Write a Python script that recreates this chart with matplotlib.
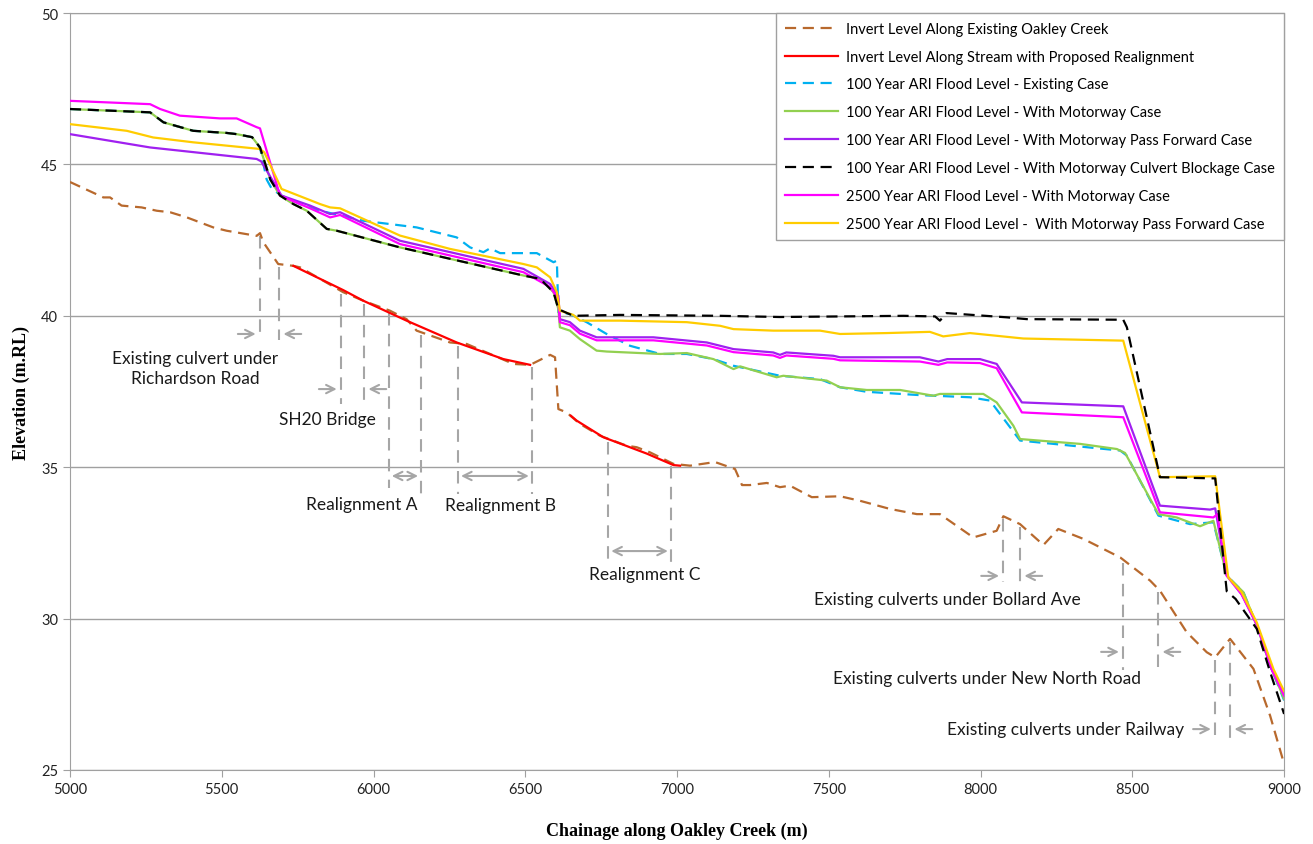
import numpy as np
import matplotlib
matplotlib.use("Agg")
import matplotlib.pyplot as plt

plt.rcParams['font.family'] = ['Lato', 'DejaVu Sans']

# --- data (chainage m, elevation m.RL) ---
inv_ch = [5000, 5110, 5132, 5170, 5236, 5286, 5330, 5385, 5472, 5516, 5615, 5626, 5637, 5686, 5736,
          5758, 5900, 5966, 6054, 6109, 6142, 6252, 6307, 6384, 6461, 6516, 6582, 6598, 6609, 6636,
          6680, 6746, 6834, 6867, 6911, 6988, 7043, 7125, 7191, 7214, 7240, 7296, 7339, 7372, 7444,
          7537, 7603, 7702, 7790, 7866, 7976, 8053, 8075, 8130, 8207, 8256, 8339, 8460, 8559, 8591,
          8679, 8745, 8773, 8822, 8899, 8954, 9000]
inv_el = [44.42, 43.91, 43.91, 43.64, 43.58, 43.47, 43.42, 43.25, 42.92, 42.81, 42.64, 42.73, 42.43, 41.71, 41.65,
          41.60, 40.78, 40.50, 40.17, 39.89, 39.51, 39.12, 39.07, 38.74, 38.41, 38.38, 38.71, 38.63, 36.92, 36.81,
          36.43, 36.04, 35.71, 35.66, 35.49, 35.11, 35.05, 35.17, 34.94, 34.41, 34.41, 34.48, 34.34, 34.39, 34.01,
          34.04, 33.89, 33.62, 33.45, 33.45, 32.68, 32.90, 33.38, 33.12, 32.43, 32.96, 32.63, 32.02, 31.25, 30.92,
          29.55, 28.89, 28.72, 29.33, 28.34, 26.79, 25.20]

prop_ch = [5736, 5900, 5966, 6109, 6274, 6428, 6516, np.nan, 6650, 6669, 6757, 6900, 6988, 7010]
prop_el = [41.65, 40.85, 40.50, 39.84, 39.12, 38.57, 38.38, np.nan, 36.70, 36.54, 35.99, 35.45, 35.07, 35.05]

ex_ch = [5000, 5264, 5308, 5406, 5516, 5549, 5600, 5626, 5648, 5665, 5697, 5758, 5813, 5846, 5966, 6142,
         6274, 6318, 6362, 6384, 6417, 6538, 6593, 6604, 6609, 6647, 6702, 6768, 6845, 6944, 7032, 7120,
         7186, 7339, 7471, 7537, 7625, 7800, 7965, 8031, 8130, 8460, 8482, 8586, 8690, 8767, 8811, 8866,
         8910, 8954, 9000]
ex_el = [46.83, 46.72, 46.39, 46.11, 46.04, 46.00, 45.90, 45.56, 44.50, 44.19, 43.97, 43.69, 43.50, 43.42, 43.14, 42.92,
         42.59, 42.26, 42.10, 42.23, 42.07, 42.07, 41.77, 41.82, 40.12, 40.06, 39.79, 39.40, 39.01, 38.74, 38.74, 38.57,
         38.35, 38.02, 37.91, 37.64, 37.49, 37.38, 37.31, 37.20, 35.88, 35.55, 35.38, 33.40, 33.12, 33.18, 31.42, 30.87,
         29.77, 28.45, 27.30]

mw_ch = [5000, 5264, 5308, 5406, 5516, 5549, 5600, 5626, 5660, 5692, 5736, 5780, 5846, 5879, 6087, 6494,
         6549, 6593, 6609, 6614, 6647, 6680, 6735, 6768, 6944, 7032, 7120, 7186, 7208, 7328, 7350, 7493,
         7537, 7625, 7735, 7845, 7866, 8009, 8053, 8108, 8130, 8328, 8449, 8476, 8586, 8646, 8723, 8767,
         8811, 8866, 8910, 8954, 9000]
mw_el = [46.83, 46.72, 46.39, 46.11, 46.04, 46.00, 45.90, 45.56, 44.50, 43.97, 43.69, 43.47, 42.87, 42.81, 42.26, 41.33,
         41.22, 40.78, 40.22, 39.62, 39.51, 39.23, 38.85, 38.82, 38.74, 38.77, 38.57, 38.24, 38.33, 37.97, 38.02, 37.86,
         37.64, 37.55, 37.55, 37.36, 37.42, 37.42, 37.14, 36.37, 35.93, 35.77, 35.60, 35.47, 33.45, 33.34, 33.05, 33.23,
         31.42, 30.87, 29.77, 28.45, 27.35]

pf_ch = [5000, 5264, 5615, 5630, 5697, 5791, 5857, 5890, 6087, 6494, 6582, 6609, 6614, 6647, 6680, 6735,
         6922, 7098, 7186, 7317, 7339, 7360, 7515, 7537, 7800, 7861, 7890, 7998, 8053, 8136, 8470, 8591,
         8756, 8773, 8811, 8860, 8910, 8960, 9000]
pf_el = [46.00, 45.56, 45.18, 45.10, 43.97, 43.64, 43.36, 43.42, 42.48, 41.55, 41.05, 40.66, 39.89, 39.79, 39.51, 39.29,
         39.29, 39.12, 38.90, 38.79, 38.71, 38.79, 38.68, 38.63, 38.63, 38.49, 38.57, 38.57, 38.41, 37.14, 37.01, 33.73,
         33.60, 33.64, 31.42, 30.80, 29.80, 28.30, 27.51]

cb_ch = [5000, 5264, 5308, 5406, 5516, 5549, 5600, 5626, 5660, 5692, 5736, 5780, 5846, 5879, 6087, 6494,
         6549, 6593, 6609, 6658, 6812, 7142, 7339, 7746, 7850, 7866, 7888, 8086, 8152, 8470, 8482, 8591,
         8773, 8811, 8840, 8910, 8954, 9000]
cb_el = [46.83, 46.72, 46.39, 46.11, 46.04, 46.00, 45.90, 45.56, 44.50, 43.97, 43.69, 43.47, 42.87, 42.81, 42.26, 41.33,
         41.22, 40.78, 40.22, 40.00, 40.03, 40.00, 39.96, 40.00, 39.98, 39.84, 40.09, 39.95, 39.89, 39.87, 39.62, 34.67,
         34.63, 30.90, 30.65, 29.66, 28.23, 26.85]

m25_ch = [5000, 5264, 5297, 5362, 5494, 5549, 5615, 5626, 5692, 5791, 5857, 5890, 6087, 6494, 6582, 6609,
          6614, 6647, 6680, 6735, 6922, 7098, 7186, 7317, 7339, 7360, 7515, 7537, 7800, 7861, 7890, 7998,
          8053, 8136, 8470, 8591, 8767, 8780, 8811, 8860, 8910, 8960, 9000]
m25_el = [47.10, 46.99, 46.83, 46.61, 46.52, 46.52, 46.23, 46.19, 43.97, 43.55, 43.25, 43.33, 42.37, 41.44, 40.95, 40.55,
          39.79, 39.69, 39.41, 39.19, 39.19, 39.02, 38.80, 38.69, 38.61, 38.69, 38.58, 38.53, 38.49, 38.38, 38.46, 38.44,
          38.27, 36.81, 36.65, 33.51, 33.34, 33.45, 31.42, 30.80, 29.80, 28.30, 27.45]

p25_ch = [5000, 5187, 5274, 5406, 5626, 5640, 5697, 5824, 5857, 5890, 6087, 6252, 6494, 6538, 6582, 6604,
          6614, 6658, 6680, 6812, 7032, 7142, 7186, 7317, 7471, 7537, 7691, 7833, 7877, 7965, 8141, 8470,
          8591, 8773, 8816, 8860, 8910, 8965, 9000]
p25_el = [46.33, 46.11, 45.89, 45.73, 45.51, 45.40, 44.19, 43.69, 43.58, 43.55, 42.65, 42.21, 41.71, 41.60, 41.27, 40.78,
          40.17, 40.03, 39.84, 39.84, 39.79, 39.67, 39.56, 39.51, 39.51, 39.40, 39.43, 39.47, 39.32, 39.43, 39.25, 39.18,
          34.67, 34.70, 31.36, 30.87, 29.87, 28.33, 27.60]

# annotation markers: (left chainage, right chainage)
culverts = [(5626, 5689), (5893, 5969), (8075, 8130), (8470, 8585), (8773, 8822)]
realign = [(6051, 6156), (6279, 6521), (6774, 6979)]

fig = plt.figure(figsize=(13.13, 8.45), dpi=100)
ax = fig.add_axes([0.0533, 0.0876, 0.9247, 0.8958])

dash = (5, 3)
ax.plot(inv_ch, inv_el, color='#B8692D', lw=1.6, dashes=dash, label='Invert Level Along Existing Oakley Creek', zorder=3)
ax.plot(prop_ch, prop_el, color='#FF0000', lw=1.6, label='Invert Level Along Stream with Proposed Realignment', zorder=4)
ax.plot(ex_ch, ex_el, color='#00B0F0', lw=1.6, dashes=dash, label='100 Year ARI Flood Level - Existing Case', zorder=3)
ax.plot(mw_ch, mw_el, color='#92D050', lw=1.6, label='100 Year ARI Flood Level - With Motorway Case', zorder=4)
ax.plot(pf_ch, pf_el, color='#A020F0', lw=1.6, label='100 Year ARI Flood Level - With Motorway Pass Forward Case', zorder=4)
ax.plot(cb_ch, cb_el, color='#000000', lw=1.6, dashes=dash, label='100 Year ARI Flood Level - With Motorway Culvert Blockage Case', zorder=6)
ax.plot(m25_ch, m25_el, color='#FF00FF', lw=1.6, label='2500 Year ARI Flood Level - With Motorway Case', zorder=4)
ax.plot(p25_ch, p25_el, color='#FFCC00', lw=1.6, label='2500 Year ARI Flood Level -  With Motorway Pass Forward Case', zorder=5)

gc = '#A6A6A6'
def vline(x, bottom):
    top = np.interp(x, inv_ch, inv_el) - 0.1
    ax.plot([x, x], [top, bottom], color=gc, lw=1.5, dashes=(6, 4), zorder=2)

def arrow(x0, x1, y):
    ax.annotate('', xy=(x1, y), xytext=(x0, y),
                arrowprops=dict(arrowstyle='->', color=gc, lw=1.5, mutation_scale=15))

# culverts: inward pointing arrows
cul_bottom = [39.2, 37.1, 31.2, 28.3, 26.0]
cul_arrow_y = [39.4, 37.58, 31.41, 28.9, 26.35]
for (a, b), bot, ay in zip(culverts, cul_bottom, cul_arrow_y):
    vline(a, bot)
    vline(b, bot)
    arrow(a - 82, a - 5, ay)
    arrow(b + 82, b + 5, ay)

# realignments: double arrows
re_bottom = [(34.3, 34.05), (34.1, 34.1), (31.74, 31.8)]
re_arrow_y = [34.71, 34.71, 32.23]
for (a, b), (ba, bb), ay in zip(realign, re_bottom, re_arrow_y):
    vline(a, ba)
    vline(b, bb)
    ax.annotate('', xy=(b, ay), xytext=(a, ay),
                arrowprops=dict(arrowstyle='<->', color=gc, lw=1.5, mutation_scale=15))

tc = '#1a1a1a'
fs = 12.5
ax.text(5412, 38.28, 'Existing culvert under\nRichardson Road', ha='center', va='center', fontsize=fs, color=tc, linespacing=1.35)
ax.text(5847, 36.59, 'SH20 Bridge', ha='center', va='center', fontsize=fs, color=tc)
ax.text(5962, 33.79, 'Realignment A', ha='center', va='center', fontsize=fs, color=tc)
ax.text(6417, 33.75, 'Realignment B', ha='center', va='center', fontsize=fs, color=tc)
ax.text(6895, 31.47, 'Realignment C', ha='center', va='center', fontsize=fs, color=tc)
ax.text(7890, 30.65, 'Existing culverts under Bollard Ave', ha='center', va='center', fontsize=fs, color=tc)
ax.text(8021, 28.04, 'Existing culverts under New North Road', ha='center', va='center', fontsize=fs, color=tc)
ax.text(8671, 26.35, 'Existing culverts under Railway', ha='right', va='center', fontsize=fs, color=tc)

ax.set_xlim(5000, 9000)
ax.set_ylim(25, 50)
ax.set_xticks(np.arange(5000, 9001, 500))
ax.set_yticks(np.arange(25, 51, 5))
ax.yaxis.grid(True, color='#A0A0A0', lw=1)
ax.set_axisbelow(True)
for s in ax.spines.values():
    s.set_color('#A0A0A0')
ax.tick_params(colors='#A0A0A0', labelcolor='#222222', labelsize=10.5, length=5)

ax.set_xlabel('Chainage along Oakley Creek (m)', family='Liberation Serif', fontweight='bold', fontsize=13, labelpad=19)
ax.set_ylabel('Elevation (m.RL)', family='Liberation Serif', fontweight='bold', fontsize=13, labelpad=8)

leg = ax.legend(loc='upper right', bbox_to_anchor=(1, 1), borderaxespad=0, fancybox=False,
                edgecolor='#A0A0A0', framealpha=1, fontsize=10.5, handlelength=3.6,
                labelspacing=0.95, borderpad=0.6, handletextpad=0.6)
leg.get_frame().set_linewidth(1)

fig.savefig('out.png', dpi=100)
